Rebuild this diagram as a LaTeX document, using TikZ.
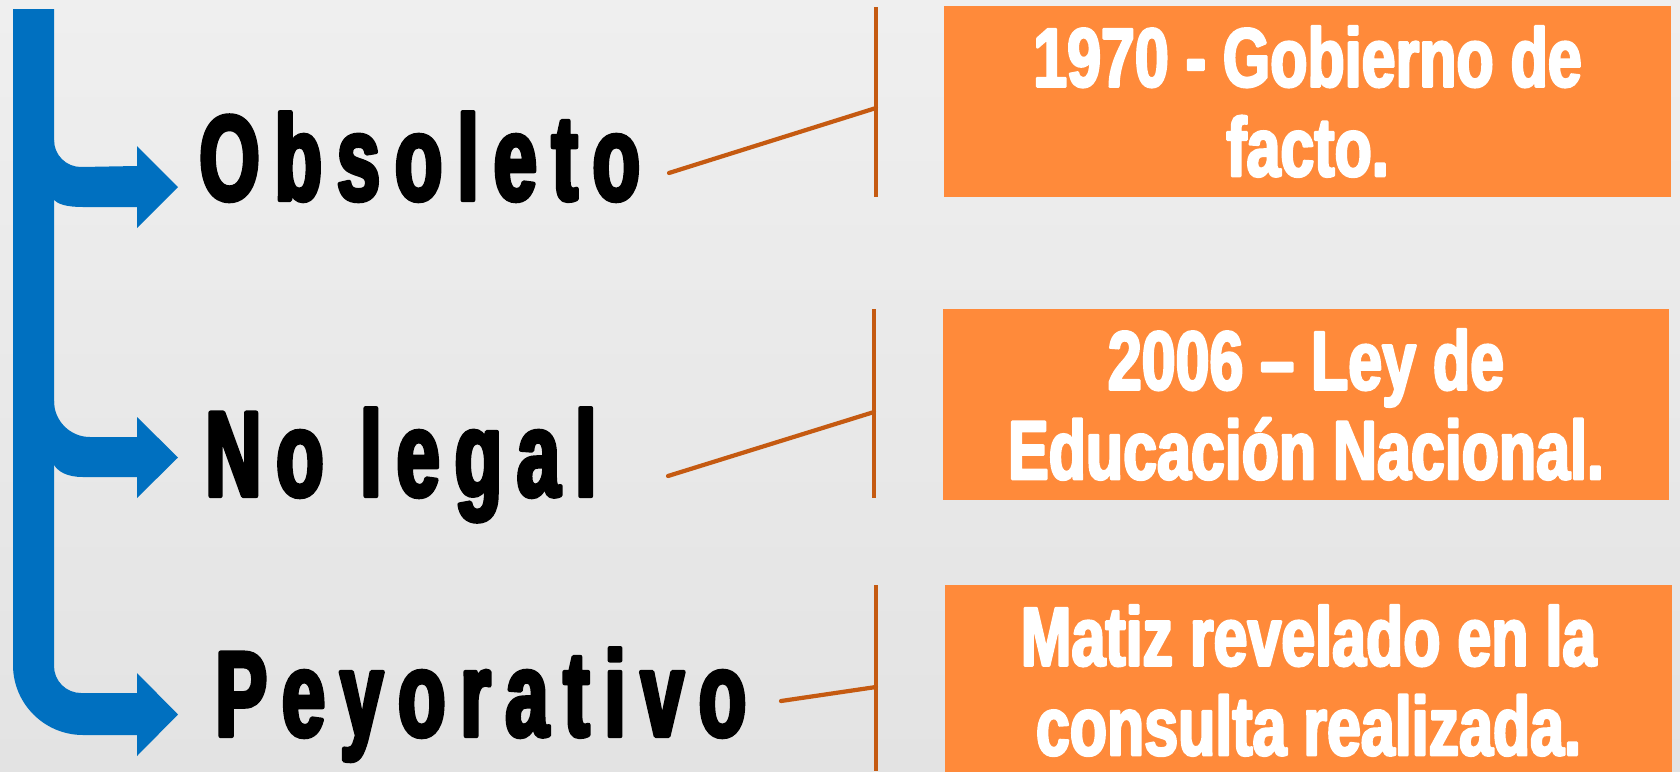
\documentclass[tikz,border=0pt]{standalone}
\usepackage{fontspec}
\setmainfont{Liberation Sans}
\newfontfamily\termfont{Liberation Sans}[FakeStretch=0.64,LetterSpace=12.3,FakeBold=3.5]
\newfontfamily\factfont{Liberation Sans}[FakeStretch=0.73,FakeBold=3]
\usetikzlibrary{calc}
\definecolor{branchblue}{HTML}{0070C0}
\definecolor{factorange}{HTML}{FF8A3A}
\definecolor{linkbrown}{HTML}{C55A11}
\definecolor{paperlight}{HTML}{EFEFEF}
\definecolor{paperdark}{HTML}{E3E3E3}

\begin{document}
\begin{tikzpicture}[x=0.02cm, y=-0.02cm, line join=round,
		term/.style={anchor=base west, inner sep=0pt, text=black,
			font=\termfont\bfseries\fontsize{69}{69}\selectfont},
		fact/.style={fill=factorange, text=white, align=center, inner sep=0pt,
			minimum width=14.54cm, minimum height=3.82cm,
			font=\factfont\bfseries\fontsize{47.5}{51}\selectfont},
		link/.style={draw=linkbrown, line width=2.4pt}]
	
	% ===== Background =====
	\useasboundingbox (0,0) rectangle (1680,771);
	\shade[top color=paperlight, bottom color=paperdark] (0,0) rectangle (1680,771);
	
	% ===== Left: blue bent arrows =====
	% main bar, ending in the bottom arrow
	\fill[branchblue] (13,9) -- (13,665) arc[start angle=180, end angle=90, radius=70]
		-- (137,735) -- (137,756) -- (178,714.5) -- (137,673) -- (137,693)
		-- (81,693) arc[start angle=90, end angle=180, radius=27] -- (54,9) -- cycle;
	% top branch
	\fill[branchblue] (40,140) -- (54,140) arc[start angle=180, end angle=90, radius=27]
		-- (137,166) -- (137,146) -- (178,187) -- (137,228) -- (137,207)
		-- (83,207) .. controls (66,207) and (58,204) .. (54,200) -- (40,200) -- cycle;
	% middle branch
	\fill[branchblue] (40,401) -- (54,401) arc[start angle=180, end angle=90, radius=36]
		-- (137,437) -- (137,417) -- (178,457.5) -- (137,498) -- (137,477)
		-- (83,477) .. controls (66,477) and (58,471) .. (54,465) -- (40,465) -- cycle;
	
	% ===== Terms =====
	\node[term] (obs) at (199,200) {Obsoleto};
	\node[term] (nolegal) at (205,496) {No legal};
	\node[term] (peyor) at (215,736) {Peyorativo};
	
	% ===== Right: facts =====
	\node[fact] (f1) at (1307.5,101.5) {1970 - Gobierno de\\facto.};
	\node[fact] (f2) at (1306,404.5) {2006 – Ley de\\Educación Nacional.};
	\node[fact] (f3) at (1308.5,680.5) {Matiz revelado en la\\consulta realizada.};
	
	% bracket ends and elbows
	\coordinate (t1) at (876,7);   \coordinate (b1) at (876,197); \coordinate (m1) at (876,108);
	\coordinate (t2) at (874,309); \coordinate (b2) at (874,498); \coordinate (m2) at (874,412);
	\coordinate (t3) at (876,585); \coordinate (b3) at (876,771); \coordinate (m3) at (876,687);
	\coordinate (s1) at (669,173);
	\coordinate (s2) at (668,476);
	\coordinate (s3) at (781,701);
	
	% ===== Links =====
	\foreach \i in {1,2,3} {
		\draw[link] (t\i) -- (b\i);
		\draw[link, line cap=round] (s\i) -- (m\i);
	}
	
\end{tikzpicture}
\end{document}
